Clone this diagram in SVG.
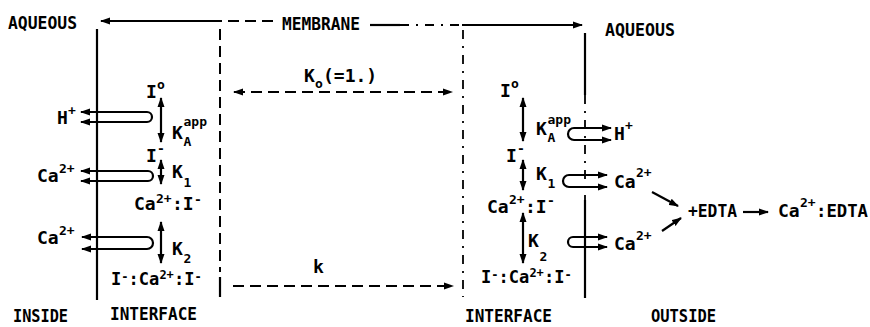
<svg xmlns="http://www.w3.org/2000/svg" width="870" height="327" viewBox="0 0 870 327">
<defs>
<marker id="ah" markerUnits="userSpaceOnUse" markerWidth="10" markerHeight="8" refX="9" refY="4" orient="auto-start-reverse">
<path d="M0,0.5 L10,4 L0,7.5 z" fill="#000"/>
</marker>
<style>
.t{font-family:"DejaVu Sans Mono","Liberation Mono",monospace;font-weight:bold;font-size:18px;fill:#000}
.b{font-size:18px}
.m{font-size:17px}
.s{font-size:13px}
.u{font-size:12px}
.ln{stroke:#000;stroke-width:2.2;fill:none}
.dl{stroke:#000;stroke-width:2;fill:none;stroke-dasharray:11 6}
.dd{stroke:#000;stroke-width:1.8;fill:none;stroke-dasharray:9 7 2 7}
.ar{marker-end:url(#ah)}
.ar2{marker-start:url(#ah);marker-end:url(#ah)}
</style>
</defs>

<g id="frame">
<line class="ln" x1="97" y1="29" x2="97" y2="300"/>
<line class="dl" x1="220" y1="29" x2="220" y2="272"/>
<line class="ln" x1="220" y1="277" x2="220" y2="297"/>
<line class="dd" x1="463" y1="30" x2="463" y2="297"/>
<line class="ln" x1="585" y1="33" x2="585" y2="95"/>
<line class="dd" x1="585" y1="95" x2="585" y2="200"/>
<line class="ln" x1="585" y1="200" x2="585" y2="298"/>
</g>

<g id="labels">
<text class="t b" x="8" y="29" textLength="69" lengthAdjust="spacingAndGlyphs">AQUEOUS</text>
<text class="t b" x="282" y="30" textLength="78" lengthAdjust="spacingAndGlyphs">MEMBRANE</text>
<text class="t b" x="605" y="36" textLength="70" lengthAdjust="spacingAndGlyphs">AQUEOUS</text>
<text class="t b" x="13" y="322" textLength="55" lengthAdjust="spacingAndGlyphs">INSIDE</text>
<text class="t b" x="110" y="320" textLength="87" lengthAdjust="spacingAndGlyphs">INTERFACE</text>
<text class="t b" x="465" y="322" textLength="87" lengthAdjust="spacingAndGlyphs">INTERFACE</text>
<text class="t b" x="651" y="322" textLength="65" lengthAdjust="spacingAndGlyphs">OUTSIDE</text>
</g>

<g id="left-species">
<text class="t"><tspan x="146" y="98">I</tspan><tspan class="s" x="157" y="89">o</tspan></text>
<text class="t"><tspan x="172" y="139">K</tspan><tspan class="s" x="183.5" y="126">app</tspan><tspan class="s" x="183.5" y="146">A</tspan></text>
<text class="t"><tspan x="146" y="162">I</tspan><tspan class="s" x="157" y="153">-</tspan></text>
<text class="t"><tspan x="172" y="178">K</tspan><tspan class="s" x="183.5" y="187">1</tspan></text>
<text class="t"><tspan x="134" y="210">Ca</tspan><tspan class="s" x="156" y="203">2+</tspan><tspan x="172" y="210">:I</tspan><tspan class="s" x="194" y="204">-</tspan></text>
<text class="t"><tspan x="172" y="255">K</tspan><tspan class="s" x="183.5" y="263">2</tspan></text>
<text class="t m"><tspan x="111" y="285">I</tspan><tspan class="u" x="121.3" y="281">-</tspan><tspan x="128.6" y="285">:Ca</tspan><tspan class="u" x="159.4" y="279">2+</tspan><tspan x="174" y="285">:I</tspan><tspan class="u" x="194.5" y="281">-</tspan></text>
<text class="t"><tspan x="57" y="124">H</tspan><tspan class="s" x="68" y="115">+</tspan></text>
<text class="t"><tspan x="37" y="182">Ca</tspan><tspan class="s" x="59" y="173">2+</tspan></text>
<text class="t"><tspan x="37" y="244">Ca</tspan><tspan class="s" x="59" y="235">2+</tspan></text>
</g>

<g id="right-species">
<text class="t"><tspan x="500" y="97">I</tspan><tspan class="s" x="511" y="88">o</tspan></text>
<text class="t"><tspan x="536" y="135">K</tspan><tspan class="s" x="547.5" y="124">app</tspan><tspan class="s" x="547.5" y="142">A</tspan></text>
<text class="t"><tspan x="614" y="140">H</tspan><tspan class="s" x="625" y="130">+</tspan></text>
<text class="t"><tspan x="506" y="162">I</tspan><tspan class="s" x="517" y="153">-</tspan></text>
<text class="t"><tspan x="536" y="180">K</tspan><tspan class="s" x="547.5" y="188">1</tspan></text>
<text class="t"><tspan x="614" y="188">Ca</tspan><tspan class="s" x="636" y="177">2+</tspan></text>
<text class="t"><tspan x="487" y="213">Ca</tspan><tspan class="s" x="509" y="204">2+</tspan><tspan x="525" y="213">:I</tspan><tspan class="s" x="547" y="205">-</tspan></text>
<text class="t"><tspan x="528" y="247">K</tspan><tspan class="s" x="539.5" y="261">2</tspan></text>
<text class="t"><tspan x="614" y="250">Ca</tspan><tspan class="s" x="636" y="240">2+</tspan></text>
<text class="t m"><tspan x="481" y="283">I</tspan><tspan class="u" x="491.3" y="279">-</tspan><tspan x="498.6" y="283">:Ca</tspan><tspan class="u" x="529.4" y="277">2+</tspan><tspan x="544" y="283">:I</tspan><tspan class="u" x="564.5" y="279">-</tspan></text>
</g>

<g id="edta">
<text class="t" x="688" y="217" textLength="49" lengthAdjust="spacingAndGlyphs">+EDTA</text>
<text class="t"><tspan x="778" y="217">Ca</tspan><tspan class="s" x="800" y="207">2+</tspan><tspan x="816" y="217" textLength="52" lengthAdjust="spacingAndGlyphs">:EDTA</tspan></text>
</g>

<g id="rate-labels">
<text class="t"><tspan x="304" y="82">K</tspan><tspan class="s" x="315" y="88">o</tspan><tspan x="323" y="82">(=1.)</tspan></text>
<text class="t" x="313" y="273">k</text>
</g>

<g id="connectors">
<line class="ln" x1="213" y1="21" x2="101" y2="21" marker-end="url(#ah)"/>
<line class="dl" x1="273" y1="21" x2="213" y2="21"/>
<line class="ln" x1="370" y1="25" x2="400" y2="25"/>
<line class="dd" x1="400" y1="25" x2="462" y2="25"/>
<line class="ln ar" x1="462" y1="25" x2="582" y2="25"/>
<line class="dl ar2" x1="234" y1="92" x2="452" y2="92"/>
<line class="dl ar" x1="233" y1="286" x2="453" y2="286"/>
<line class="ln ar2" x1="161" y1="98" x2="161" y2="142"/>
<line class="ln ar2" x1="161" y1="160" x2="161" y2="184"/>
<line class="ln ar2" x1="161" y1="222" x2="161" y2="263"/>
<line class="ln ar2" x1="523" y1="98" x2="523" y2="141"/>
<line class="ln ar2" x1="523" y1="160" x2="523" y2="190"/>
<line class="ln ar2" x1="523" y1="213" x2="523" y2="263"/>
<path class="ln ar2" d="M81,112 H147 A5,5 0 0 1 147,122 H81"/>
<path class="ln ar2" d="M81,171 H148 A5,5 0 0 1 148,181 H81"/>
<path class="ln ar2" d="M82,237 H147 A6,6 0 0 1 147,249 H82"/>
<path class="ln ar2" d="M611,128 H574 A6,6 0 0 0 574,140 H611"/>
<path class="ln ar2" d="M607,175 H569 A6,6 0 0 0 569,187 H607"/>
<path class="ln ar2" d="M607,237 H573 A5,5 0 0 0 573,247 H607"/>
<line class="ln ar" x1="652" y1="192" x2="678" y2="206"/>
<line class="ln ar" x1="662" y1="231" x2="681" y2="218"/>
<line class="ln ar" x1="743" y1="212" x2="768" y2="212"/>
</g>
</svg>
